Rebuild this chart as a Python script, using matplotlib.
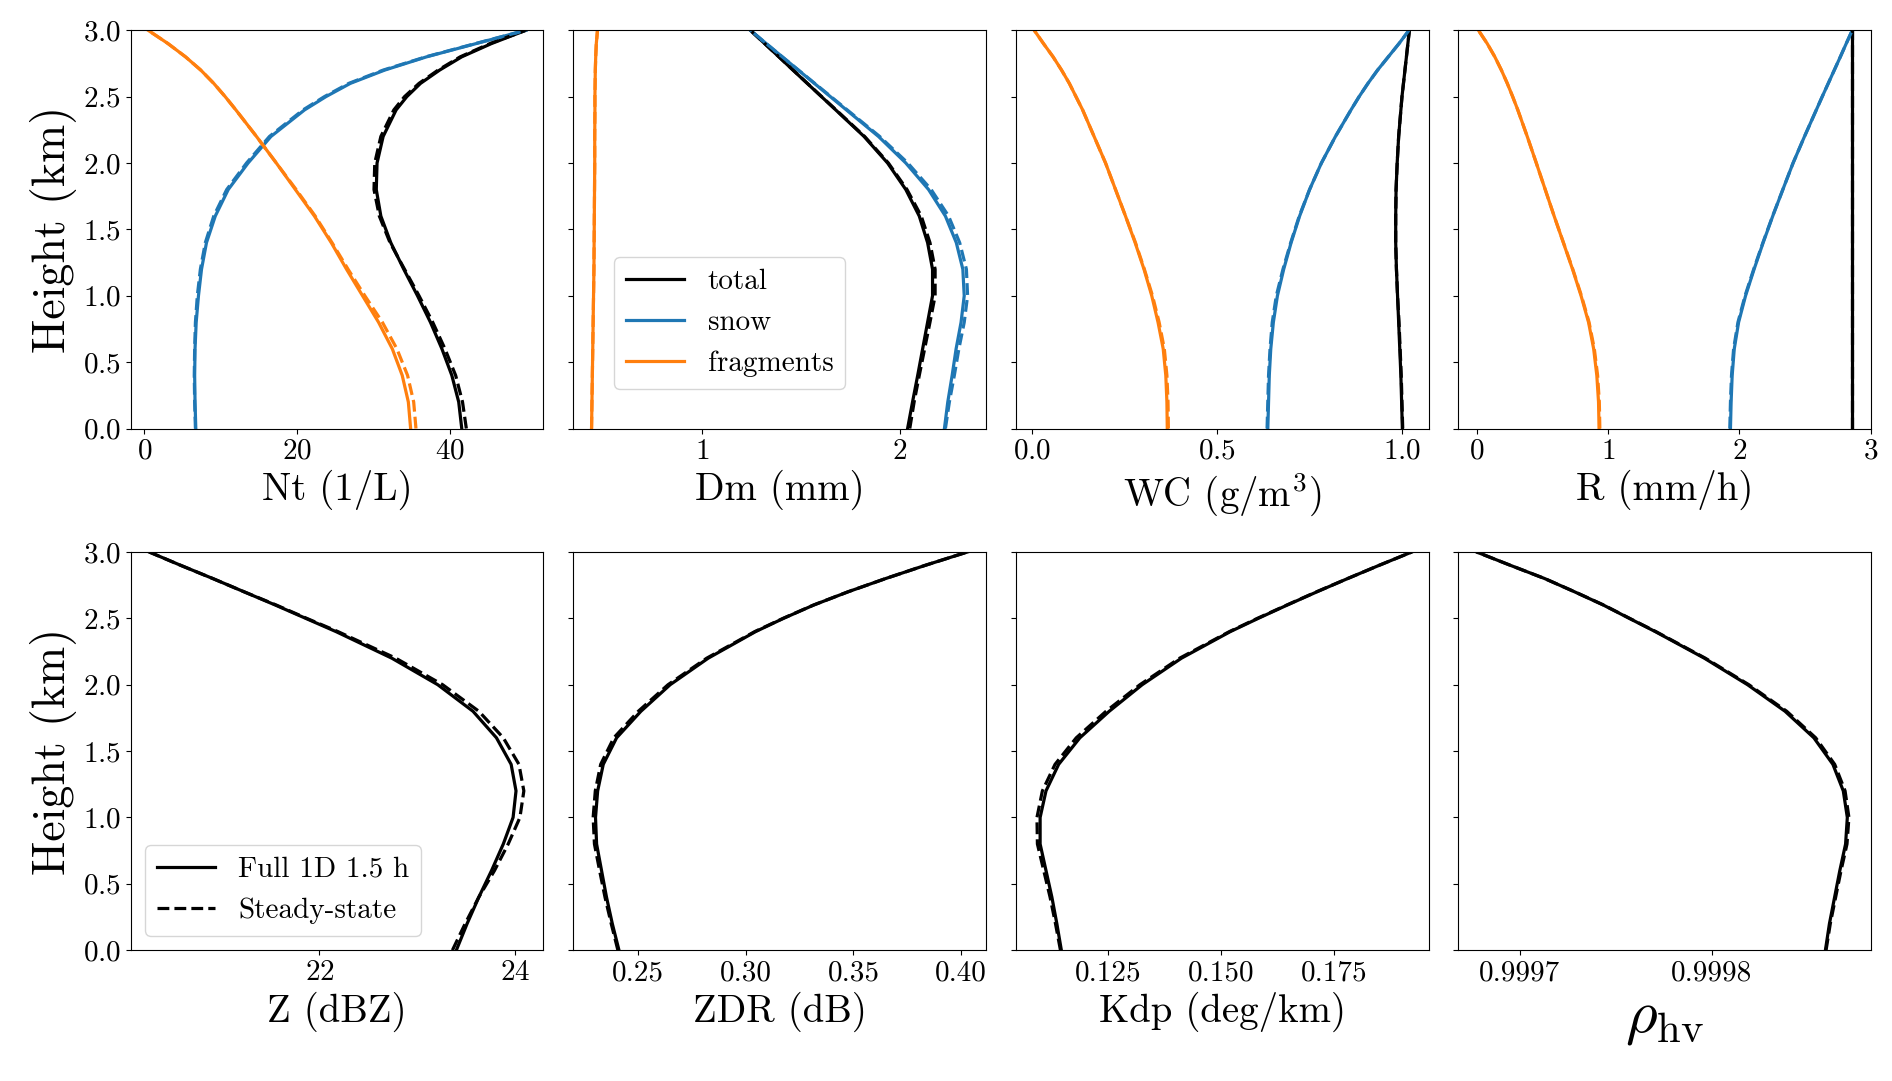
import numpy as np
import matplotlib.pyplot as plt
from matplotlib.ticker import FormatStrFormatter
plt.switch_backend('agg')

plt.rcParams['font.family'] = 'serif'
plt.rcParams['font.serif'] = ['cmr10']
plt.rcParams['mathtext.fontset'] = 'cm'
plt.rcParams['axes.formatter.use_mathtext'] = True

# heights (km) at which the profiles were read
height = [0.0, 0.2, 0.4, 0.6, 0.8, 1.0, 1.2, 1.4, 1.6, 1.8, 2.0, 2.2, 2.4, 2.5, 2.6, 2.7, 2.8, 2.9, 3.0]

# --- top row: total / snow / fragments, full 1D (solid) and steady-state (dashed)
nt_total = [41.6, 41.2, 40.3, 39.0, 37.5, 35.8, 34.0, 32.3, 31.0, 30.4, 30.5, 31.3, 33.0, 34.4, 36.2, 38.7, 41.6, 45.5, 50.0]
nt_total_ss = [42.2, 41.7, 40.8, 39.4, 37.8, 36.0, 34.1, 32.2, 30.8, 30.1, 30.2, 31.0, 32.7, 34.1, 36.0, 38.5, 41.4, 45.3, 50.0]
nt_snow = [6.75, 6.65, 6.6, 6.65, 6.8, 7.1, 7.5, 8.15, 9.3, 11.0, 13.6, 16.6, 21.0, 23.8, 27.0, 31.5, 37.0, 43.5, 50.0]
nt_snow_ss = [6.7, 6.6, 6.55, 6.6, 6.7, 6.95, 7.35, 8.0, 9.1, 10.8, 13.4, 16.4, 20.8, 23.6, 26.8, 31.3, 36.9, 43.4, 50.0]
nt_frag = [34.9, 34.6, 33.8, 32.5, 30.7, 28.6, 26.5, 24.5, 22.3, 19.8, 17.3, 14.7, 12.0, 10.6, 9.1, 7.4, 5.4, 3.1, 0.5]
nt_frag_ss = [35.6, 35.3, 34.5, 33.1, 31.2, 28.9, 26.7, 24.6, 22.4, 19.9, 17.3, 14.7, 12.0, 10.6, 9.1, 7.4, 5.4, 3.1, 0.5]

dm_total = [2.039, 2.064, 2.090, 2.115, 2.140, 2.165, 2.165, 2.140, 2.098, 2.030, 1.938, 1.819, 1.676, 1.604, 1.532, 1.460, 1.389, 1.317, 1.245]
dm_total_ss = [2.050, 2.072, 2.098, 2.125, 2.152, 2.178, 2.178, 2.152, 2.108, 2.036, 1.942, 1.822, 1.678, 1.605, 1.533, 1.461, 1.389, 1.317, 1.245]
dm_snow = [2.225, 2.242, 2.264, 2.284, 2.309, 2.325, 2.318, 2.285, 2.230, 2.145, 2.030, 1.892, 1.730, 1.649, 1.568, 1.487, 1.406, 1.325, 1.245]
dm_snow_ss = [2.230, 2.250, 2.275, 2.298, 2.325, 2.342, 2.336, 2.302, 2.246, 2.158, 2.040, 1.898, 1.734, 1.652, 1.570, 1.488, 1.406, 1.325, 1.245]
dm_frag = [0.443, 0.445, 0.447, 0.449, 0.451, 0.453, 0.455, 0.456, 0.457, 0.458, 0.459, 0.459, 0.460, 0.460, 0.461, 0.462, 0.464, 0.467, 0.473]
dm_frag_ss = [0.443, 0.445, 0.447, 0.449, 0.451, 0.453, 0.455, 0.456, 0.457, 0.458, 0.459, 0.459, 0.460, 0.460, 0.461, 0.462, 0.464, 0.467, 0.473]

wc_total = [1.001, 0.999, 0.997, 0.994, 0.991, 0.988, 0.985, 0.983, 0.983, 0.984, 0.987, 0.991, 0.997, 1.000, 1.004, 1.008, 1.012, 1.016, 1.020]
wc_total_ss = [1.002, 1.000, 0.998, 0.995, 0.992, 0.988, 0.985, 0.983, 0.983, 0.984, 0.987, 0.991, 0.997, 1.000, 1.004, 1.008, 1.012, 1.016, 1.020]
wc_snow = [0.637, 0.639, 0.641, 0.645, 0.652, 0.663, 0.680, 0.700, 0.723, 0.750, 0.782, 0.820, 0.862, 0.884, 0.908, 0.934, 0.963, 0.992, 1.019]
wc_snow_ss = [0.635, 0.637, 0.639, 0.643, 0.649, 0.660, 0.678, 0.699, 0.722, 0.750, 0.782, 0.820, 0.862, 0.884, 0.908, 0.934, 0.963, 0.992, 1.019]
wc_frag = [0.365, 0.364, 0.361, 0.354, 0.340, 0.323, 0.302, 0.278, 0.252, 0.225, 0.198, 0.167, 0.136, 0.118, 0.100, 0.079, 0.056, 0.030, 0.005]
wc_frag_ss = [0.368, 0.367, 0.364, 0.357, 0.343, 0.325, 0.303, 0.279, 0.252, 0.225, 0.198, 0.167, 0.136, 0.118, 0.100, 0.079, 0.056, 0.030, 0.005]

r_total = [2.86, 2.86, 2.86, 2.86, 2.86, 2.86, 2.86, 2.86, 2.86, 2.86, 2.86, 2.86, 2.86, 2.86, 2.86, 2.86, 2.86, 2.86, 2.86]
r_total_ss = [2.86, 2.86, 2.86, 2.86, 2.86, 2.86, 2.86, 2.86, 2.86, 2.86, 2.86, 2.86, 2.86, 2.86, 2.86, 2.86, 2.86, 2.86, 2.86]
r_snow = [1.933, 1.938, 1.946, 1.962, 1.995, 2.048, 2.113, 2.182, 2.255, 2.332, 2.410, 2.497, 2.587, 2.632, 2.678, 2.724, 2.770, 2.815, 2.861]
r_snow_ss = [1.928, 1.933, 1.941, 1.957, 1.990, 2.044, 2.110, 2.180, 2.254, 2.332, 2.410, 2.497, 2.587, 2.632, 2.678, 2.724, 2.770, 2.815, 2.861]
r_frag = [0.932, 0.928, 0.915, 0.891, 0.852, 0.795, 0.730, 0.660, 0.590, 0.522, 0.454, 0.385, 0.313, 0.274, 0.233, 0.188, 0.138, 0.080, 0.013]
r_frag_ss = [0.938, 0.934, 0.921, 0.896, 0.856, 0.798, 0.732, 0.661, 0.590, 0.522, 0.454, 0.385, 0.313, 0.274, 0.233, 0.188, 0.138, 0.080, 0.013]

# --- bottom row: radar variables, full 1D (solid) and steady-state (dashed)
z_full = [23.40, 23.51, 23.63, 23.76, 23.88, 23.98, 24.01, 23.96, 23.81, 23.57, 23.21, 22.74, 22.17, 21.86, 21.55, 21.23, 20.91, 20.58, 20.26]
z_ss = [23.36, 23.49, 23.63, 23.79, 23.93, 24.05, 24.09, 24.04, 23.88, 23.63, 23.26, 22.78, 22.19, 21.87, 21.56, 21.23, 20.91, 20.58, 20.26]
zdr_full = [0.2410, 0.2379, 0.2352, 0.2329, 0.2306, 0.2301, 0.2311, 0.2337, 0.2399, 0.2512, 0.2648, 0.2825, 0.3045, 0.3175, 0.3315, 0.3475, 0.3650, 0.3835, 0.4030]
zdr_ss = [0.2405, 0.2374, 0.2345, 0.2320, 0.2296, 0.2290, 0.2300, 0.2325, 0.2386, 0.2500, 0.2638, 0.2818, 0.3041, 0.3173, 0.3314, 0.3475, 0.3650, 0.3835, 0.4030]
kdp_full = [0.1146, 0.1136, 0.1125, 0.1112, 0.1099, 0.1099, 0.1112, 0.1140, 0.1187, 0.1252, 0.1325, 0.1412, 0.1520, 0.1582, 0.1646, 0.1712, 0.1780, 0.1850, 0.1922]
kdp_ss = [0.1144, 0.1133, 0.1121, 0.1107, 0.1093, 0.1092, 0.1104, 0.1132, 0.1179, 0.1245, 0.1320, 0.1408, 0.1518, 0.1580, 0.1645, 0.1711, 0.1780, 0.1850, 0.1922]
rho_full = [0.99985916, 0.99986126, 0.99986396, 0.99986667, 0.99986967, 0.99987057, 0.99986847, 0.99986306, 0.99985315,
            0.99983814, 0.99981862, 0.99979610, 0.99977057, 0.99975700, 0.99974354, 0.99972850, 0.99971291, 0.99969500, 0.99967748]
rho_ss = [0.99985950, 0.99986170, 0.99986450, 0.99986730, 0.99987040, 0.99987140, 0.99986940, 0.99986400, 0.99985410,
          0.99983900, 0.99981930, 0.99979660, 0.99977090, 0.99975720, 0.99974370, 0.99972860, 0.99971291, 0.99969500, 0.99967748]

top_labels = ['Nt (1/L)', 'Dm (mm)', r'WC (g/m$^3$)', 'R (mm/h)']
bottom_labels = ['Z (dBZ)', 'ZDR (dB)', 'Kdp (deg/km)', r'$\rho_{\rm hv}$']

fig, axes = plt.subplots(2, 4, figsize=(18.92, 10.81), dpi=100, sharey=True)
fig.subplots_adjust(left=0.069, right=0.989, bottom=0.121, top=0.972, wspace=0.072, hspace=0.31)

top_data = [
    (nt_total, nt_total_ss, nt_snow, nt_snow_ss, nt_frag, nt_frag_ss),
    (dm_total, dm_total_ss, dm_snow, dm_snow_ss, dm_frag, dm_frag_ss),
    (wc_total, wc_total_ss, wc_snow, wc_snow_ss, wc_frag, wc_frag_ss),
    (r_total, r_total_ss, r_snow, r_snow_ss, r_frag, r_frag_ss),
]
top_xlim = [(-1.8, 52.3), (0.35, 2.435), (-0.045, 1.072), (-0.14, 3.005)]
top_ticks = [[0, 20, 40], [1, 2], [0.0, 0.5, 1.0], [0, 1, 2, 3]]

LW = 2.3
for ax, series, lab, lim, ticks in zip(axes[0], top_data, top_labels, top_xlim, top_ticks):
    tot, tot_ss, snow, snow_ss, frag, frag_ss = series
    ax.plot(tot, height, color='k', lw=LW, label='total')
    ax.plot(snow, height, color='C0', lw=LW, label='snow')
    ax.plot(frag, height, color='C1', lw=LW, label='fragments')
    ax.plot(tot_ss, height, color='k', lw=LW, ls='--')
    ax.plot(snow_ss, height, color='C0', lw=LW, ls='--')
    ax.plot(frag_ss, height, color='C1', lw=LW, ls='--')
    ax.set_xlim(lim)
    ax.set_xticks(ticks)
    ax.set_xlabel(lab, fontsize=28)

axes[0][1].legend(loc='lower left', bbox_to_anchor=(0.1, 0.1), borderaxespad=0, fontsize=21)

bottom_data = [(z_full, z_ss), (zdr_full, zdr_ss), (kdp_full, kdp_ss), (rho_full, rho_ss)]
bottom_xlim = [(20.07, 24.29), (0.2197, 0.4116), (0.1045, 0.1959), (0.999668, 0.999883)]
bottom_ticks = [[22, 24], [0.25, 0.30, 0.35, 0.40], [0.125, 0.150, 0.175], [0.9997, 0.9998]]

for ax, (full, ss), lab, lim, ticks in zip(axes[1], bottom_data, bottom_labels, bottom_xlim, bottom_ticks):
    ax.plot(full, height, color='k', lw=LW, label='Full 1D 1.5 h')
    ax.plot(ss, height, color='k', lw=LW, ls='--', label='Steady-state')
    ax.set_xlim(lim)
    ax.set_xticks(ticks)
    ax.set_xlabel(lab, fontsize=28)

axes[1][3].xaxis.set_major_formatter(FormatStrFormatter('%.4f'))
axes[1][3].xaxis.label.set_size(44)
axes[1][2].xaxis.set_major_formatter(FormatStrFormatter('%.3f'))
axes[1][1].xaxis.set_major_formatter(FormatStrFormatter('%.2f'))
axes[1][0].legend(loc='lower left', fontsize=21)

for row in axes:
    row[0].set_ylabel('Height (km)', fontsize=33)
    for ax in row:
        ax.set_ylim(0, 3)
        ax.set_yticks([0.0, 0.5, 1.0, 1.5, 2.0, 2.5, 3.0])
        ax.tick_params(labelsize=21)

plt.savefig('out.png', dpi=100)
